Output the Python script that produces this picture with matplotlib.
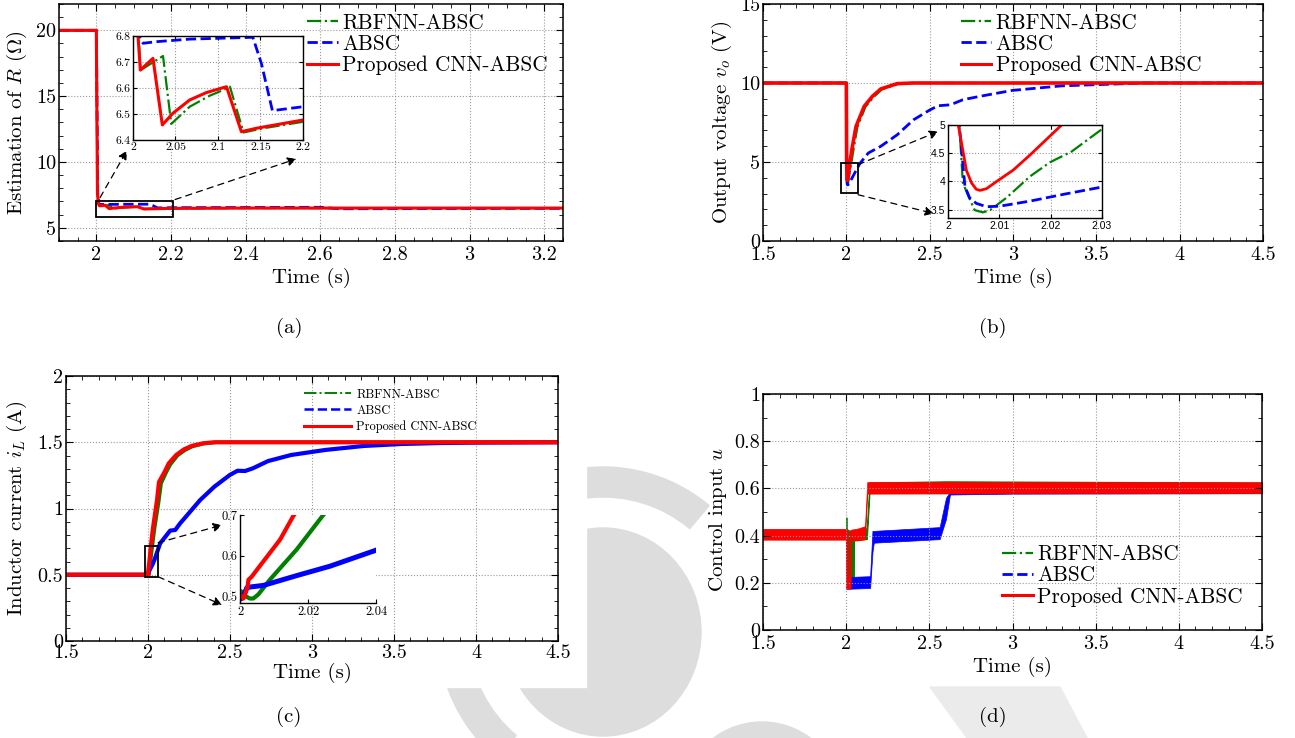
import numpy as np
import matplotlib
matplotlib.use('Agg')
import matplotlib.pyplot as plt
from matplotlib.patches import Rectangle, Wedge, Ellipse, Polygon
from matplotlib.lines import Line2D
from matplotlib.ticker import MultipleLocator
from matplotlib.transforms import IdentityTransform

plt.rcParams.update({
    'font.family': 'serif',
    'font.serif': ['cmr10'],
    'mathtext.fontset': 'cm',
    'axes.formatter.use_mathtext': True,
    'axes.unicode_minus': False,
})

GREEN = '#008000'
BLUE = '#0000ff'
RED = '#ff0000'
series_names = ['RBFNN-ABSC', 'ABSC', 'Proposed CNN-ABSC']

# ---------------- (a) Estimation of R ----------------
a_t_green = [1.9, 2.0, 2.003, 2.0065, 2.009, 2.0353, 2.045, 2.0667, 2.09, 2.106, 2.114, 2.130, 2.153, 2.2, 2.4, 3.25]
a_R_green = [20, 20, 7.6, 6.8, 6.669, 6.723, 6.462, 6.528, 6.57, 6.592, 6.605, 6.429, 6.445, 6.47, 6.5, 6.5]
a_t_blue = [1.9, 2.0, 2.004, 2.007, 2.0118, 2.027, 2.0667, 2.141, 2.151, 2.164, 2.2, 2.6, 2.65, 3.25]
a_R_blue = [20, 20, 7.6, 6.8, 6.772, 6.778, 6.788, 6.795, 6.695, 6.513, 6.528, 6.56, 6.45, 6.48]
a_t_red = [1.9, 2.0, 2.003, 2.0059, 2.0086, 2.0235, 2.0345, 2.047, 2.0667, 2.086, 2.11, 2.1275, 2.145, 2.2, 2.4, 3.25]
a_R_red = [20, 20, 7.6, 6.8, 6.669, 6.714, 6.458, 6.503, 6.554, 6.582, 6.605, 6.432, 6.445, 6.477, 6.5, 6.5]
a_xticks = [2, 2.2, 2.4, 2.6, 2.8, 3, 3.2]
a_xticklabels = ['2', '2.2', '2.4', '2.6', '2.8', '3', '3.2']
a_yticks = [5, 10, 15, 20]
a_yticklabels = ['5', '10', '15', '20']
a_in_xticks = [2, 2.05, 2.1, 2.15, 2.2]
a_in_xticklabels = ['2', '2.05', '2.1', '2.15', '2.2']
a_in_yticks = [6.4, 6.5, 6.6, 6.7, 6.8]
a_in_yticklabels = ['6.4', '6.5', '6.6', '6.7', '6.8']

# ---------------- (b) Output voltage ----------------
b_t_green = [1.5, 2.0, 2.0022, 2.0029, 2.0042, 2.0052, 2.0068, 2.0082, 2.0114, 2.016, 2.0199, 2.0241, 2.0296,
             2.04, 2.066, 2.115, 2.164, 2.214, 2.313, 2.41, 4.5]
b_v_green = [10, 10, 5.0, 3.97, 3.69, 3.49, 3.45, 3.49, 3.71, 4.09, 4.34, 4.53, 4.9,
             5.6, 7.2, 8.5, 9.12, 9.6, 9.95, 10, 10]
b_t_blue = [1.5, 2.0, 2.0022, 2.0033, 2.0042, 2.0055, 2.0075, 2.0101, 2.016, 2.0225, 2.03, 2.06, 2.083,
            2.132, 2.206, 2.305, 2.403, 2.502, 2.551, 2.625, 2.699, 2.798, 2.995, 3.292, 3.489, 3.785, 4.5]
b_v_blue = [10, 10, 5.0, 3.91, 3.71, 3.61, 3.55, 3.56, 3.65, 3.77, 3.90, 4.5, 4.93,
            5.57, 5.99, 6.72, 7.67, 8.3, 8.56, 8.62, 8.94, 9.15, 9.53, 9.82, 9.89, 10.0, 10.0]
b_t_red = [1.5, 2.0, 2.002, 2.0036, 2.0046, 2.0055, 2.0062, 2.0075, 2.0095, 2.0127, 2.016, 2.0219, 2.033,
           2.058, 2.107, 2.156, 2.206, 2.305, 2.4, 4.5]
b_v_red = [10, 10, 5.0, 4.19, 3.97, 3.86, 3.84, 3.87, 4.0, 4.2, 4.47, 4.98, 5.78,
           7.25, 8.52, 9.15, 9.62, 9.96, 10, 10]
b_xticks = [1.5, 2, 2.5, 3, 3.5, 4, 4.5]
b_xticklabels = ['1.5', '2', '2.5', '3', '3.5', '4', '4.5']
b_yticks = [0, 5, 10, 15]
b_yticklabels = ['0', '5', '10', '15']
b_in_xticks = [2, 2.01, 2.02, 2.03]
b_in_xticklabels = ['2', '2.01', '2.02', '2.03']
b_in_yticks = [3.5, 4, 4.5, 5]
b_in_yticklabels = ['3.5', '4', '4.5', '5']

# ---------------- (c) Inductor current ----------------
c_t_green = [1.5, 2.0, 2.0003, 2.0015, 2.0029, 2.0039, 2.0054, 2.0088, 2.0167, 2.0243, 2.04, 2.065, 2.08,
             2.11, 2.135, 2.18, 2.225, 2.27, 2.34, 2.42, 4.5]
c_i_green = [0.5, 0.5, 0.514, 0.502, 0.496, 0.496, 0.506, 0.542, 0.616, 0.698, 0.85, 1.05, 1.19,
             1.27, 1.33, 1.4, 1.44, 1.468, 1.49, 1.5, 1.5]
c_t_blue = [1.5, 2.0, 2.0003, 2.001, 2.002, 2.0029, 2.0069, 2.0167, 2.0265, 2.04, 2.074, 2.135, 2.166, 2.196,
            2.318, 2.405, 2.499, 2.546, 2.592, 2.639, 2.732, 2.873, 3.082, 3.316, 3.549, 3.782, 4.0, 4.5]
c_i_blue = [0.5, 0.5, 0.495, 0.502, 0.522, 0.524, 0.528, 0.552, 0.575, 0.614, 0.737, 0.833, 0.838, 0.888,
            1.064, 1.165, 1.253, 1.285, 1.283, 1.303, 1.358, 1.404, 1.442, 1.472, 1.487, 1.494, 1.497, 1.5]
c_t_red = [1.5, 2.0, 2.0005, 2.0010, 2.0015, 2.0022, 2.0025, 2.0034, 2.0069, 2.0118, 2.0157, 2.03, 2.055,
           2.067, 2.102, 2.126, 2.172, 2.219, 2.265, 2.335, 2.405, 4.5]
c_i_red = [0.5, 0.5, 0.5016, 0.496, 0.506, 0.524, 0.542, 0.549, 0.587, 0.640, 0.698, 0.85, 1.064,
           1.2, 1.278, 1.34, 1.404, 1.446, 1.472, 1.492, 1.5, 1.5]
c_xticks = [1.5, 2, 2.5, 3, 3.5, 4, 4.5]
c_xticklabels = ['1.5', '2', '2.5', '3', '3.5', '4', '4.5']
c_yticks = [0, 0.5, 1, 1.5, 2]
c_yticklabels = ['0', '0.5', '1', '1.5', '2']
c_in_xticks = [2, 2.02, 2.04]
c_in_xticklabels = ['2', '2.02', '2.04']
c_in_yticks = [0.5, 0.6, 0.7]
c_in_yticklabels = ['0.5', '0.6', '0.7']

# ---------------- (d) Control input (ripple envelopes) ----------------
d_t_green = [1.5, 1.999, 2.0, 2.002, 2.003, 2.03, 2.031, 2.046, 2.047, 2.12, 2.124, 2.14, 2.6, 4.5]
d_hi_green = [0.425, 0.425, 0.477, 0.477, 0.425, 0.42, 0.42, 0.42, 0.42, 0.43, 0.43, 0.625, 0.63, 0.625]
d_lo_green = [0.385, 0.385, 0.385, 0.18, 0.18, 0.18, 0.227, 0.227, 0.38, 0.385, 0.385, 0.58, 0.58, 0.58]
d_t_blue = [1.5, 1.999, 2.0, 2.024, 2.144, 2.158, 2.166, 2.562, 2.6, 2.624, 3.0, 4.5]
d_hi_blue = [0.425, 0.425, 0.225, 0.225, 0.228, 0.42, 0.42, 0.436, 0.56, 0.586, 0.59, 0.59]
d_lo_blue = [0.385, 0.385, 0.175, 0.175, 0.178, 0.33, 0.37, 0.385, 0.47, 0.574, 0.578, 0.58]
d_t_red = [1.5, 1.998, 1.999, 2.008, 2.009, 2.017, 2.018, 2.027, 2.028, 2.07, 2.113, 2.127, 2.6, 4.5]
d_hi_red = [0.428, 0.428, 0.428, 0.428, 0.23, 0.23, 0.42, 0.42, 0.425, 0.43, 0.44, 0.627, 0.627, 0.626]
d_lo_red = [0.383, 0.383, 0.175, 0.175, 0.175, 0.175, 0.175, 0.175, 0.38, 0.38, 0.385, 0.578, 0.579, 0.58]
d_xticks = [1.5, 2, 2.5, 3, 3.5, 4, 4.5]
d_xticklabels = ['1.5', '2', '2.5', '3', '3.5', '4', '4.5']
d_yticks = [0, 0.2, 0.4, 0.6, 0.8, 1]
d_yticklabels = ['0', '0.2', '0.4', '0.6', '0.8', '1']

captions = ['(a)', '(b)', '(c)', '(d)']

# ---------------- figure ----------------
W, H = 1295, 738
fig = plt.figure(figsize=(W / 100, H / 100), dpi=100)
fig.patch.set_facecolor('white')


def box(l, t, r, b):
    return [l / W, 1 - b / H, (r - l) / W, (b - t) / H]


# faint watermark in the lower half (pixel coordinates, y measured up)
WM = '#dddddd'
PX = IdentityTransform()
fig.add_artist(Wedge((603, H - 632), 165, 50, 230, width=30, color=WM, transform=PX, zorder=-3))
fig.add_artist(Ellipse((603, H - 632), 196, 208, color=WM, transform=PX, zorder=-3))
fig.add_artist(Ellipse((762, H - 812), 170, 180, color=WM, transform=PX, zorder=-3))
fig.add_artist(Polygon([(930, H - 687), (1060, H - 687), (1087, 0), (967, 0)], closed=True,
                       color='#ebebeb', transform=PX, zorder=-3))
fig.add_artist(Rectangle((0, H - 687), 586, 327, color='white', transform=PX, zorder=-2))

TICK = 14.5
LAB = 15
LEG = 15.3


def style_main(ax, xminor, yminor, xpad=4):
    ax.xaxis.set_minor_locator(MultipleLocator(xminor))
    ax.yaxis.set_minor_locator(MultipleLocator(yminor))
    ax.tick_params(which='both', direction='in', top=True, right=True, labelsize=TICK)
    ax.tick_params(which='major', length=5, width=0.8)
    ax.tick_params(which='minor', length=3, width=0.6)
    ax.tick_params(axis='x', pad=xpad)
    ax.tick_params(axis='y', pad=2)
    ax.grid(True, which='major', linestyle=':', color='0.6', lw=0.8)
    for s in ax.spines.values():
        s.set_linewidth(1.1)


def style_inset(ax, fs, grid=True):
    ax.tick_params(which='both', direction='in', top=grid, right=grid, labelsize=fs, length=3, pad=2)
    if grid:
        ax.grid(True, linestyle=':', color='0.6', lw=0.8)
    for s in ax.spines.values():
        s.set_linewidth(1.0)


def handles(lw=(1.6, 2.0, 2.2)):
    return [Line2D([], [], color=GREEN, ls='-.', lw=lw[0]),
            Line2D([], [], color=BLUE, ls='--', lw=lw[1]),
            Line2D([], [], color=RED, ls='-', lw=lw[2])]


def zoom_marks(ax, rect, arrows):
    ax.add_patch(Rectangle((rect[0], rect[1]), rect[2], rect[3], fill=False, ec='k', lw=1.3, zorder=5))
    for (x0, y0), (x1, y1) in arrows:
        ax.annotate('', xy=(x1, y1), xytext=(x0, y0), annotation_clip=False, zorder=6,
                    arrowprops=dict(arrowstyle='-|>', ls=(0, (5, 4)), color='k', lw=0.9,
                                    mutation_scale=13, shrinkA=0, shrinkB=0))


def big_legend(ax, anchor):
    ax.legend(handles(), series_names, loc='upper left', bbox_to_anchor=anchor, frameon=False,
              fontsize=LEG, handlelength=1.45, handletextpad=0.2, labelspacing=0.08,
              borderpad=0, borderaxespad=0)


# ===== (a) =====
ax = fig.add_axes(box(59, 4, 563, 241))
ax.plot(a_t_green, a_R_green, color=GREEN, ls='-.', lw=1.6)
ax.plot(a_t_blue, a_R_blue, color=BLUE, ls='--', lw=2.0)
ax.plot(a_t_red, a_R_red, color=RED, ls='-', lw=2.2)
ax.set_xlim(1.9, 3.25)
ax.set_ylim(4, 22)
ax.set_xticks(a_xticks, a_xticklabels)
ax.set_yticks(a_yticks, a_yticklabels)
style_main(ax, 0.05, 1)
ax.set_xlabel('Time (s)', fontsize=LAB, va='center')
ax.xaxis.set_label_coords(0.5, -0.156)
ax.set_ylabel(r'Estimation of $R$ ($\Omega$)', fontsize=LAB, va='center')
ax.yaxis.set_label_coords(-0.083, 0.5)
big_legend(ax, (0.492, 0.962))
zoom_marks(ax, (2.0, 5.8, 0.205, 1.27), [((2.01, 7.3), (2.082, 10.87)), ((2.211, 7.15), (2.536, 10.24))])
fig.text(289 / W, 1 - 328 / H, captions[0], fontsize=LAB, ha='center', va='center')

ai = fig.add_axes(box(133, 36, 303, 140))
ai.plot(a_t_green, a_R_green, color=GREEN, ls='-.', lw=1.6)
ai.plot(a_t_blue, a_R_blue, color=BLUE, ls='--', lw=2.0)
ai.plot(a_t_red, a_R_red, color=RED, ls='-', lw=2.2)
ai.set_xlim(2, 2.2)
ai.set_ylim(6.4, 6.8)
ai.set_xticks(a_in_xticks, a_in_xticklabels)
ai.set_yticks(a_in_yticks, a_in_yticklabels)
style_inset(ai, 8.5)

# ===== (b) =====
ax = fig.add_axes(box(763, 4, 1263, 241))
ax.plot(b_t_green, b_v_green, color=GREEN, ls='-.', lw=1.6)
ax.plot(b_t_blue, b_v_blue, color=BLUE, ls='--', lw=2.0)
ax.plot(b_t_red, b_v_red, color=RED, ls='-', lw=2.6)
ax.set_xlim(1.5, 4.5)
ax.set_ylim(0, 15)
ax.set_xticks(b_xticks, b_xticklabels)
ax.set_yticks(b_yticks, b_yticklabels)
style_main(ax, 0.1, 1)
ax.set_xlabel('Time (s)', fontsize=LAB, va='center')
ax.xaxis.set_label_coords(0.5, -0.156)
ax.set_ylabel(r'Output voltage $v_o$ (V)', fontsize=LAB, va='center')
ax.yaxis.set_label_coords(-0.082, 0.5)
big_legend(ax, (0.395, 0.962))
zoom_marks(ax, (1.967, 3.04, 0.103, 1.9), [((2.07, 4.83), (2.552, 6.94)), ((2.07, 2.93), (2.525, 1.74))])
fig.text(993 / W, 1 - 328 / H, captions[1], fontsize=LAB, ha='center', va='center')

bi = fig.add_axes(box(948, 125, 1102, 218))
bi.plot(b_t_green, b_v_green, color=GREEN, ls='-.', lw=1.6)
bi.plot(b_t_blue, b_v_blue, color=BLUE, ls='--', lw=2.0)
bi.plot(b_t_red, b_v_red, color=RED, ls='-', lw=2.0)
bi.set_xlim(2, 2.03)
bi.set_ylim(3.35, 5)
bi.set_xticks(b_in_xticks, b_in_xticklabels, fontfamily='Liberation Sans')
bi.set_yticks(b_in_yticks, b_in_yticklabels, fontfamily='Liberation Sans')
style_inset(bi, 7.5)

# ===== (c) =====
ax = fig.add_axes(box(66, 376, 558, 641))
ax.plot(c_t_green, c_i_green, color=GREEN, ls='-', lw=2.6)
ax.plot(c_t_blue, c_i_blue, color=BLUE, ls='-', lw=3.0)
ax.plot(c_t_red, c_i_red, color=RED, ls='-', lw=3.0)
ax.set_xlim(1.5, 4.5)
ax.set_ylim(0, 2)
ax.set_xticks(c_xticks, c_xticklabels)
ax.set_yticks(c_yticks, c_yticklabels)
style_main(ax, 0.1, 0.1, xpad=2.5)
ax.set_xlabel('Time (s)', fontsize=LAB, va='center')
ax.xaxis.set_label_coords(0.5, -0.121)
ax.set_ylabel(r'Inductor current $i_L$ (A)', fontsize=LAB, va='center')
ax.yaxis.set_label_coords(-0.0996, 0.5)
ax.legend(handles((1.4, 1.8, 2.2)), series_names, loc='upper left', bbox_to_anchor=(0.483, 0.953),
          frameon=False, fontsize=9, handlelength=3.8, handletextpad=0.4, labelspacing=0.32,
          borderpad=0, borderaxespad=0)
zoom_marks(ax, (1.979, 0.485, 0.083, 0.232), [((2.062, 0.742), (2.452, 0.875)), ((2.062, 0.485), (2.452, 0.272))])
fig.text(289 / W, 1 - 717 / H, captions[2], fontsize=LAB, ha='center', va='center')

ci = fig.add_axes(box(240, 515, 376, 603))
ci.plot(c_t_green, c_i_green, color=GREEN, ls='-', lw=3.0)
ci.plot(c_t_blue, c_i_blue, color=BLUE, ls='-', lw=3.6)
ci.plot(c_t_red, c_i_red, color=RED, ls='-', lw=3.0)
ci.set_xlim(2, 2.04)
ci.set_ylim(0.485, 0.7)
ci.set_xticks(c_in_xticks, c_in_xticklabels)
ci.set_yticks(c_in_yticks, c_in_yticklabels)
style_inset(ci, 9, grid=False)
ci.spines['top'].set_visible(False)
ci.spines['right'].set_visible(False)

# ===== (d) =====
ax = fig.add_axes(box(763, 394, 1262, 630))
ax.fill_between(d_t_green, d_lo_green, d_hi_green, color=GREEN, lw=0.8, ec=GREEN)
ax.fill_between(d_t_blue, d_lo_blue, d_hi_blue, color=BLUE, lw=0.5, ec=BLUE)
ax.fill_between(d_t_red, d_lo_red, d_hi_red, color=RED, lw=0.5, ec=RED)
ax.set_xlim(1.5, 4.5)
ax.set_ylim(0, 1)
ax.set_xticks(d_xticks, d_xticklabels)
ax.set_yticks(d_yticks, d_yticklabels)
style_main(ax, 0.1, 0.1)
ax.set_xlabel('Time (s)', fontsize=LAB, va='center')
ax.xaxis.set_label_coords(0.5, -0.155)
ax.set_ylabel(r'Control input $u$', fontsize=LAB, va='center')
ax.yaxis.set_label_coords(-0.09, 0.47)
big_legend(ax, (0.479, 0.362))
fig.text(993 / W, 1 - 717 / H, captions[3], fontsize=LAB, ha='center', va='center')

fig.savefig('out.png', dpi=100, facecolor='white')
